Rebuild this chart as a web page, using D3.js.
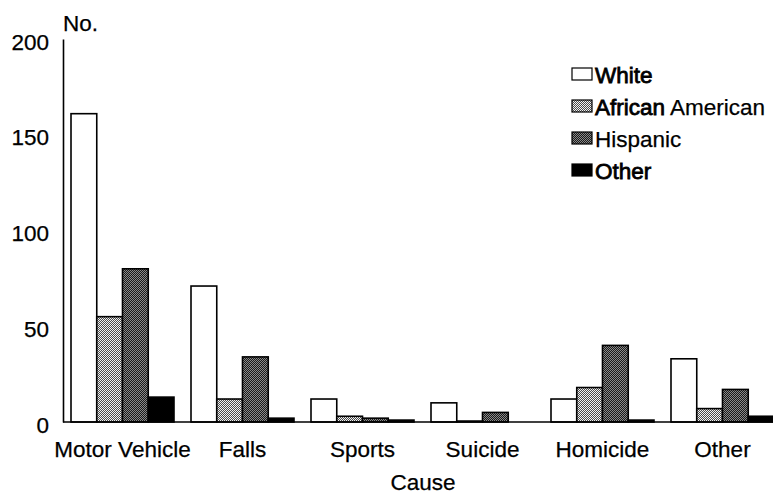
<!DOCTYPE html>
<html>
<head>
<meta charset="utf-8">
<script src="https://cdn.jsdelivr.net/npm/d3@7"></script>
<style>
  html, body { margin: 0; padding: 0; background: #fff; }
  svg { display: block; font-family: "Liberation Sans", Arial, Helvetica, sans-serif; }
  svg text { stroke: #000; stroke-width: 0.25px; }
</style>
</head>
<body>
<svg id="chart" width="773" height="497"></svg>
<script>
// Injuries by cause and race/ethnicity
const causes = ["Motor Vehicle", "Falls", "Sports", "Suicide", "Homicide", "Other"];
const groups = ["White", "African American", "Hispanic", "Other"];
const white           = [161, 71, 12, 10, 12, 33];
const africanAmerican = [55, 12, 3, 0.5, 18, 7];
const hispanic        = [80, 34, 2, 5, 40, 17];
const other           = [13, 2, 1, 0, 1, 3];
const yTicks = [0, 50, 100, 150, 200];

const seriesValues = [white, africanAmerican, hispanic, other];
const rows = causes.map((c, i) => ({
  cause: c,
  values: groups.map((g, j) => ({ group: g, value: seriesValues[j][i] }))
}));

const svg = d3.select("#chart");
const W = 773, H = 497;
const axisX = 63, baseY = 422, topY = 39;

// Fill patterns for the stippled series
const defs = svg.append("defs");
function stipple(id, dark, light) {
  const p = defs.append("pattern")
    .attr("id", id).attr("patternUnits", "userSpaceOnUse")
    .attr("width", 2).attr("height", 2);
  p.append("rect").attr("width", 2).attr("height", 2).attr("fill", light);
  p.append("rect").attr("x", 0).attr("y", 0).attr("width", 1).attr("height", 1).attr("fill", dark);
  p.append("rect").attr("x", 1).attr("y", 1).attr("width", 1).attr("height", 1).attr("fill", dark);
}
stipple("stipLight", "#4a4a4a", "#f2f2f2");
stipple("stipDark", "#1a1a1a", "#8a8a8a");

const fills = d3.scaleOrdinal()
  .domain(groups)
  .range(["#ffffff", "url(#stipLight)", "url(#stipDark)", "#000000"]);

const y = d3.scaleLinear().domain([0, 200]).range([baseY, topY]);
const x0 = d3.scaleBand().domain(causes).range([axisX, 782])
  .paddingInner(0.1417).paddingOuter(0.0667);
const x1 = d3.scaleBand().domain(groups).range([0, x0.bandwidth()]).padding(0);

const fontSize = 22.5;

// Bars
const g = svg.append("g");
const grp = g.selectAll("g.cause").data(rows).join("g")
  .attr("class", "cause")
  .attr("transform", d => `translate(${x0(d.cause)},0)`);
grp.selectAll("rect").data(d => d.values.filter(v => v.value > 0)).join("rect")
  .attr("x", d => x1(d.group))
  .attr("y", d => y(d.value))
  .attr("width", x1.bandwidth())
  .attr("height", d => baseY - y(d.value))
  .attr("fill", d => fills(d.group))
  .attr("stroke", "#000")
  .attr("stroke-width", 1.6);

// Baseline
svg.append("line")
  .attr("x1", axisX).attr("x2", W)
  .attr("y1", baseY).attr("y2", baseY)
  .attr("stroke", "#000").attr("stroke-width", 1.6);

// Y axis
const yAxis = d3.axisLeft(y).tickValues(yTicks).tickSize(0).tickPadding(14).tickSizeOuter(0);
const ya = svg.append("g").attr("transform", `translate(${axisX},0)`).call(yAxis);
ya.select(".domain").attr("stroke", "#000").attr("stroke-width", 1.6);
ya.selectAll(".tick text")
  .attr("font-size", fontSize).attr("font-family", null)
  .attr("fill", "#000").attr("dy", "0.32em")
  .attr("transform", "translate(0,3)");

svg.append("text")
  .attr("x", axisX).attr("y", 31)
  .attr("font-size", fontSize).text("No.");

// X axis labels
const xAxis = d3.axisBottom(x0).tickSize(0).tickPadding(0);
const xa = svg.append("g").attr("transform", `translate(0,${baseY})`).call(xAxis);
xa.select(".domain").remove();
xa.selectAll(".tick text")
  .attr("font-size", fontSize).attr("font-family", null)
  .attr("fill", "#000").attr("dy", null).attr("y", 35);

svg.append("text")
  .attr("x", (axisX + W) / 2 + 5).attr("y", 490)
  .attr("text-anchor", "middle")
  .attr("font-size", fontSize).text("Cause");

// Legend
const legend = svg.append("g").attr("transform", "translate(572,83)");
const item = legend.selectAll("g").data(groups).join("g")
  .attr("transform", (d, i) => `translate(0,${i * 32})`);
item.append("rect")
  .attr("x", 0).attr("y", -15).attr("width", 20).attr("height", 12)
  .attr("fill", d => fills(d)).attr("stroke", "#000").attr("stroke-width", 1.2);
item.append("text")
  .attr("x", 23).attr("y", 0)
  .attr("font-size", fontSize)
  .each(function(d) {
    const t = d3.select(this);
    const parts = d.split(" ");
    parts.forEach((p, k) => {
      const heavy = k === 0 && d !== "Hispanic";
      t.append("tspan")
        .text((k > 0 ? " " : "") + p)
        .attr("stroke-width", heavy ? 0.8 : null);
    });
  });
</script>
</body>
</html>
